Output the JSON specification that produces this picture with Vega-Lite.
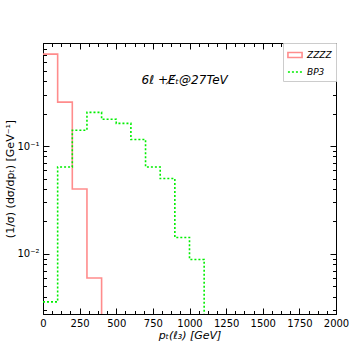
{
  "$schema": "https://vega.github.io/schema/vega-lite/v6.json",
  "autosize": "none",
  "width": 293,
  "height": 271,
  "padding": {"left": 43, "top": 43, "right": 18, "bottom": 40},
  "config": {
    "view": {"stroke": "black", "strokeWidth": 1},
    "font": "DejaVu Sans",
    "axis": {"grid": false, "domainColor": "black", "tickColor": "black", "labelColor": "black", "titleColor": "black", "labelFont": "DejaVu Sans", "titleFont": "DejaVu Sans", "labelFontSize": 10, "titleFontSize": 11, "titleFontWeight": "normal"}
  },
  "datasets": {
    "hist": [
      {"series": "ZZZZ", "pt": 0, "val": 0.71},
      {"series": "ZZZZ", "pt": 100, "val": 0.255},
      {"series": "ZZZZ", "pt": 200, "val": 0.04},
      {"series": "ZZZZ", "pt": 300, "val": 0.006},
      {"series": "ZZZZ", "pt": 400, "val": 0.00001},
      {"series": "BP3", "pt": 0, "val": 0.0036},
      {"series": "BP3", "pt": 100, "val": 0.064},
      {"series": "BP3", "pt": 200, "val": 0.14},
      {"series": "BP3", "pt": 300, "val": 0.205},
      {"series": "BP3", "pt": 400, "val": 0.177},
      {"series": "BP3", "pt": 500, "val": 0.162},
      {"series": "BP3", "pt": 600, "val": 0.115},
      {"series": "BP3", "pt": 700, "val": 0.064},
      {"series": "BP3", "pt": 800, "val": 0.05},
      {"series": "BP3", "pt": 900, "val": 0.0142},
      {"series": "BP3", "pt": 1000, "val": 0.0089},
      {"series": "BP3", "pt": 1100, "val": 0.00001}
    ],
    "label": [{"pt": 967, "val": 0.41, "text": "6ℓ +E̸ₜ@27TeV"}]
  },
  "resolve": {"axis": {"x": "independent", "y": "independent"}},
  "layer": [
    {
      "data": {"name": "hist"},
      "mark": {"type": "line", "interpolate": "step-after", "clip": true, "strokeWidth": 1.6},
      "encoding": {
        "x": {"field": "pt", "type": "quantitative", "scale": {"domain": [0, 2000], "nice": false, "zero": false},
          "axis": {"orient": "bottom", "values": [0,250,500,750,1000,1250,1500,1750,2000], "format": "d", "tickSize": -6, "labelPadding": 10, "labelFlush": false, "title": "pₜ(ℓ₃) [GeV]", "titleFontStyle": "italic", "titlePadding": 1}},
        "y": {"field": "val", "type": "quantitative", "scale": {"type": "log", "domain": [0.00278, 0.9], "nice": false},
          "axis": {"orient": "left", "values": [0.01, 0.1], "tickSize": -6, "labelPadding": 10, "labelExpr": "datum.value < 0.05 ? '10⁻²' : '10⁻¹'", "title": "(1/σ) (dσ/dpₜ) [GeV⁻¹]", "titlePadding": 1}},
        "color": {"field": "series", "type": "nominal", "scale": {"domain": ["ZZZZ", "BP3"], "range": ["#ff8c8c", "#00ee00"]},
          "legend": {"title": null, "orient": "top-right", "offset": 0, "fillColor": "white", "strokeColor": "#cccccc", "padding": 4, "labelFontStyle": "italic", "labelFontSize": 9, "symbolSize": 200, "symbolStrokeWidth": 1.6, "rowPadding": 3,
            "encode": {"symbols": {"update": {"shape": {"signal": "datum.value === 'ZZZZ' ? 'M-1,-0.35H1V0.35H-1Z' : 'stroke'"}, "fill": {"value": "transparent"}}}}}},
        "strokeDash": {"field": "series", "type": "nominal", "scale": {"domain": ["ZZZZ", "BP3"], "range": [[1, 0], [2, 2]]}, "legend": null}
      }
    },
    {
      "data": {"name": "hist"},
      "mark": {"type": "line", "opacity": 0},
      "encoding": {
        "x": {"field": "pt", "type": "quantitative", "axis": {"orient": "bottom", "values": [62.5,125,187.5,312.5,375,437.5,562.5,625,687.5,812.5,875,937.5,1062.5,1125,1187.5,1312.5,1375,1437.5,1562.5,1625,1687.5,1812.5,1875,1937.5], "tickSize": -3.5, "labels": false, "domain": false, "title": null}},
        "y": {"field": "val", "type": "quantitative", "axis": {"orient": "left", "values": [0.003,0.004,0.005,0.006,0.007,0.008,0.009,0.02,0.03,0.04,0.05,0.06,0.07,0.08,0.09,0.2,0.3,0.4,0.5,0.6,0.7,0.8,0.9], "tickSize": -3.5, "labels": false, "domain": false, "title": null}}
      }
    },
    {
      "data": {"name": "hist"},
      "mark": {"type": "line", "opacity": 0},
      "encoding": {
        "x": {"field": "pt", "type": "quantitative", "axis": {"orient": "top", "values": [0,250,500,750,1000,1250,1500,1750,2000], "tickSize": -6, "labels": false, "domain": false, "title": null}},
        "y": {"field": "val", "type": "quantitative", "axis": {"orient": "right", "values": [0.01, 0.1], "tickSize": -6, "labels": false, "domain": false, "title": null}}
      }
    },
    {
      "data": {"name": "hist"},
      "mark": {"type": "line", "opacity": 0},
      "encoding": {
        "x": {"field": "pt", "type": "quantitative", "axis": {"orient": "top", "values": [62.5,125,187.5,312.5,375,437.5,562.5,625,687.5,812.5,875,937.5,1062.5,1125,1187.5,1312.5,1375,1437.5,1562.5,1625,1687.5,1812.5,1875,1937.5], "tickSize": -3.5, "labels": false, "domain": false, "title": null}},
        "y": {"field": "val", "type": "quantitative", "axis": {"orient": "right", "values": [0.003,0.004,0.005,0.006,0.007,0.008,0.009,0.02,0.03,0.04,0.05,0.06,0.07,0.08,0.09,0.2,0.3,0.4,0.5,0.6,0.7,0.8,0.9], "tickSize": -3.5, "labels": false, "domain": false, "title": null}}
      }
    },
    {
      "data": {"name": "label"},
      "mark": {"type": "text", "fontSize": 12, "fontStyle": "italic", "align": "center", "baseline": "middle"},
      "encoding": {
        "x": {"field": "pt", "type": "quantitative", "axis": null},
        "y": {"field": "val", "type": "quantitative", "axis": null},
        "text": {"field": "text"}
      }
    }
  ]
}
